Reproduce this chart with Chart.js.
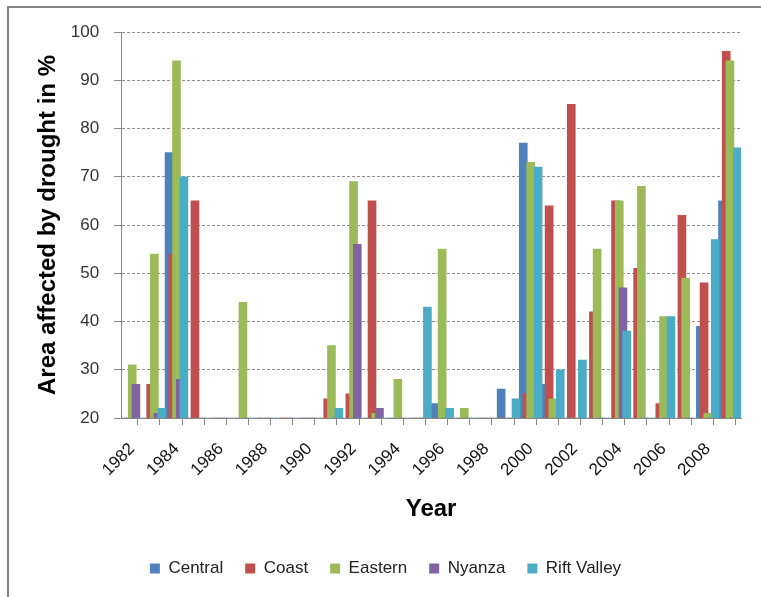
<!DOCTYPE html>
<html>
<head>
<meta charset="utf-8">
<script src="https://cdn.jsdelivr.net/npm/chart.js@4/dist/chart.umd.min.js"></script>
<style>
  body { margin: 0; background: #fff; }
  #wrap { position: relative; width: 761px; height: 597px; overflow: hidden; }
  #frame { position: absolute; left: 7px; top: 6px; width: 800px; height: 700px;
           border-top: 2px solid #878787; border-left: 2px solid #878787; pointer-events: none; }
  canvas { position: absolute; left: 0; top: 0; }
</style>
</head>
<body>
<div id="wrap">
  <canvas id="drought" width="761" height="597"></canvas>
  <div id="frame"></div>
</div>
<script>
var years = [1982, 1983, 1984, 1985, 1986, 1987, 1988, 1989, 1990, 1991, 1992, 1993, 1994, 1995,
             1996, 1997, 1998, 1999, 2000, 2001, 2002, 2003, 2004, 2005, 2006, 2007, 2008, 2009];
var central = [20, 20, 75, 20, 20, 20, 20, 20, 20, 20, 20, 20, 20, 20,
               23, 20, 20, 26, 77, 27, 20, 20, 20, 20, 20, 20, 39, 65];
var coast = [20, 27, 54, 65, 20, 20, 20, 20, 20, 24, 25, 65, 20, 20,
             20, 20, 20, 20, 25, 64, 85, 42, 65, 51, 23, 62, 48, 96];
var eastern = [31, 54, 94, 20, 20, 44, 20, 20, 20, 35, 69, 21, 28, 20,
               55, 22, 20, 20, 73, 24, 20, 55, 65, 68, 41, 49, 21, 94];
var nyanza = [27, 21, 28, 20, 20, 20, 20, 20, 20, 20, 56, 22, 20, 20,
              20, 20, 20, 20, 20, 20, 20, 20, 47, 20, 20, 20, 20, 20];
var riftValley = [20, 22, 70, 20, 20, 20, 20, 20, 20, 22, 20, 20, 20, 43,
                  22, 20, 20, 24, 72, 30, 32, 20, 38, 20, 41, 20, 57, 76];
var seriesNames = ['Central', 'Coast', 'Eastern', 'Nyanza', 'Rift Valley'];
var seriesColors = ['#4F81BD', '#C0504D', '#9BBB59', '#8064A2', '#4BACC6'];
var yTicks = [20, 30, 40, 50, 60, 70, 80, 90, 100];

// Excel style overlapping columns: each series shifted a bit inside its year
var series = [central, coast, eastern, nyanza, riftValley];
var shift = 0.1675;
var datasets = series.map(function (values, i) {
    return {
        label: seriesNames[i],
        data: values.map(function (v, k) { return { x: years[k] + (i - 2) * shift, y: v }; }),
        backgroundColor: seriesColors[i],
        borderWidth: 0,
        barThickness: 8,
        grouped: false,
        order: 4 - i
    };
});

var halfTicks = [];
for (var t = years[0] - 0.5; t <= years[years.length - 1] + 0.5; t += 0.5) {
    halfTicks.push({ value: t });
}

var ctx = document.getElementById('drought').getContext('2d');
var myChart = new Chart(ctx, {
    type: 'bar',
    data: { datasets: datasets },
    options: {
        responsive: false,
        animation: false,
        devicePixelRatio: 1,
        layout: { padding: { left: 30, right: 20, top: 32, bottom: 10 } },
        plugins: {
            tooltip: { enabled: false },
            legend: {
                position: 'bottom',
                reverse: true,
                labels: {
                    boxWidth: 10,
                    boxHeight: 10,
                    padding: 22,
                    color: '#222',
                    font: { family: 'Liberation Sans', size: 17 }
                }
            }
        },
        scales: {
            x: {
                type: 'linear',
                min: years[0] - 0.5,
                max: years[years.length - 1] + 0.5,
                offset: false,
                afterBuildTicks: function (scale) { scale.ticks = halfTicks.slice(); },
                ticks: {
                    autoSkip: false,
                    maxRotation: 45,
                    minRotation: 45,
                    padding: 2,
                    color: '#111',
                    font: { family: 'Liberation Sans', size: 17 },
                    callback: function (v) {
                        return (v % 1 === 0 && v % 2 === 0) ? String(v) : '';
                    }
                },
                grid: {
                    drawOnChartArea: false,
                    tickLength: 19,
                    tickBorderDash: [6, 60],
                    color: function (c) {
                        return (c.tick && c.tick.value % 1 !== 0) ? '#878787' : 'rgba(0,0,0,0)';
                    }
                },
                border: { display: true, color: '#878787', width: 1 },
                title: {
                    display: true,
                    text: 'Year',
                    color: '#000',
                    font: { family: 'Liberation Sans', size: 24, weight: 'bold' },
                    padding: { top: 13, bottom: 14 }
                }
            },
            y: {
                min: 20,
                max: 100,
                afterBuildTicks: function (scale) {
                    scale.ticks = yTicks.map(function (v) { return { value: v }; });
                },
                ticks: {
                    padding: 2,
                    color: '#333',
                    font: { family: 'Liberation Sans', size: 17 }
                },
                grid: {
                    color: '#8c8c8c',
                    tickLength: 20,
                    tickColor: '#878787',
                    tickBorderDash: [7, 13],
                    tickBorderDashOffset: 7
                },
                border: { display: true, color: '#878787', width: 1, dash: [3, 2] },
                title: {
                    display: true,
                    text: 'Area affected by drought in %',
                    color: '#000',
                    font: { family: 'Liberation Sans', size: 24, weight: 'bold' },
                    padding: { top: 4, bottom: 6 }
                }
            }
        }
    }
});
</script>
</body>
</html>
